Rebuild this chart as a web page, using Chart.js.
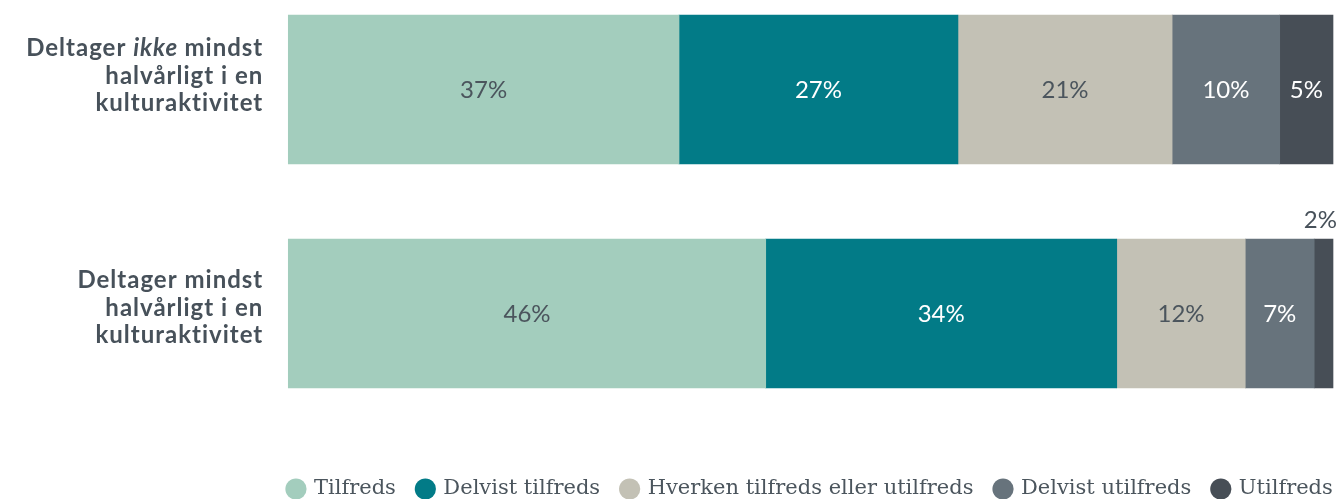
<!DOCTYPE html>
<html>
<head>
<meta charset="utf-8">
<script src="https://cdn.jsdelivr.net/npm/chart.js@4"></script>
<style>
  html, body { margin: 0; padding: 0; background: #ffffff; overflow: hidden; }
  #wrap { position: relative; width: 1340px; height: 519px; }
</style>
</head>
<body>
<div id="wrap"><canvas id="c"></canvas></div>
<script>
// ---- data ----
const categories = [
  ['Deltager ikke mindst', 'halvårligt i en', 'kulturaktivitet'],
  ['Deltager mindst', 'halvårligt i en', 'kulturaktivitet']
];
const italicWords = ['ikke'];
const seriesNames = ['Tilfreds', 'Delvist tilfreds', 'Hverken tilfreds eller utilfreds', 'Delvist utilfreds', 'Utilfreds'];
const tilfreds         = [37.4, 45.7];
const delvistTilfreds  = [26.7, 33.6];
const hverken          = [20.5, 12.3];
const delvistUtilfreds = [10.3, 6.6];
const utilfreds        = [5.1, 1.8];
const seriesValues = [tilfreds, delvistTilfreds, hverken, delvistUtilfreds, utilfreds];

// ---- styles ----
const colors = ['#a3cdbd', '#027b87', '#c3c1b5', '#67737c', '#474e56'];
const labelColors = ['#4b555d', '#ffffff', '#4b555d', '#ffffff', '#ffffff'];
const darkText = '#47515a';

const valueLabels = {
  id: 'valueLabels',
  afterDatasetsDraw(chart) {
    const ctx = chart.ctx;
    ctx.save();
    ctx.font = '24px Lato';
    ctx.textBaseline = 'middle';
    chart.data.datasets.forEach((ds, di) => {
      const meta = chart.getDatasetMeta(di);
      meta.data.forEach((el, i) => {
        const v = ds.data[i];
        const p = el.getProps(['x', 'base', 'y', 'height'], true);
        const txt = Math.round(v) + '%';
        if (v < 3) {
          ctx.fillStyle = darkText;
          ctx.textAlign = 'right';
          ctx.fillText(txt, p.x + 4, p.y - p.height / 2 - 19);
        } else {
          ctx.fillStyle = labelColors[di];
          ctx.textAlign = 'center';
          ctx.fillText(txt, (p.x + p.base) / 2, p.y + 1);
        }
      });
    });
    ctx.restore();
  }
};

const categoryLabels = {
  id: 'categoryLabels',
  afterDraw(chart, args, opts) {
    const ctx = chart.ctx;
    const yScale = chart.scales.y;
    const right = chart.chartArea.left - 26;
    const lh = 27.3;
    ctx.save();
    ctx.fillStyle = darkText;
    ctx.textBaseline = 'alphabetic';
    ctx.textAlign = 'left';
    try { ctx.letterSpacing = '1px'; } catch (e) {}
    const fN = 'bold 24px Lato', fI = 'italic bold 24px Lato';
    categories.forEach((lines, i) => {
      const cy = yScale.getPixelForValue(i) + opts.shift[i];
      lines.forEach((line, k) => {
        const words = line.split(' ');
        let total = 0;
        const parts = words.map((w, wi) => {
          const t = wi < words.length - 1 ? w + ' ' : w;
          const f = italicWords.includes(w) ? fI : fN;
          ctx.font = f;
          const wd = ctx.measureText(t).width;
          total += wd;
          return { t, f, wd };
        });
        let x = right - total + 1;
        const y = cy + (k - 1) * lh;
        parts.forEach(pt => {
          ctx.font = pt.f;
          ctx.fillText(pt.t, x, y);
          x += pt.wd;
        });
      });
    });
    ctx.restore();
  }
};

// keep the legend on one row, centred over the plot area
const legendOneRow = {
  id: 'legendOneRow',
  beforeUpdate(chart) {
    const lg = chart.legend;
    if (lg && !lg.__patched) {
      lg.__patched = true;
      const proto = Object.getPrototypeOf(lg);
      lg._fitRows = function (...a) {
        const m = this.maxWidth;
        this.maxWidth = 100000;
        const r = proto._fitRows.apply(this, a);
        this.maxWidth = m;
        return r;
      };
    }
  },
  afterLayout(chart) {
    const lg = chart.legend;
    if (lg) {
      lg.left -= 100;
      lg.right += 100;
      lg.width = lg.right - lg.left;
    }
  }
};

new Chart(document.getElementById('c'), {
  type: 'bar',
  data: {
    labels: categories.map(l => l.join(' ')),
    datasets: seriesNames.map((name, i) => ({
      label: name,
      data: seriesValues[i],
      backgroundColor: colors[i],
      borderWidth: 0,
      barThickness: 149,
      clip: false
    }))
  },
  options: {
    indexAxis: 'y',
    responsive: true,
    maintainAspectRatio: false,
    animation: false,
    layout: { padding: { top: 89.5, left: 288.3, right: 7, bottom: 9.5 } },
    scales: {
      x: {
        stacked: true, min: 0, max: 100,
        display: true,
        ticks: { display: false },
        grid: { display: false },
        border: { display: false },
        afterFit(s) { s.height = 143; }
      },
      y: {
        stacked: true, offset: false,
        display: false
      }
    },
    plugins: {
      tooltip: { enabled: false },
      categoryLabels: { shift: [-6, 2] },
      legend: {
        position: 'bottom',
        labels: {
          usePointStyle: true,
          pointStyle: 'circle',
          boxWidth: 15,
          boxHeight: 15,
          padding: 22,
          color: '#4b555d',
          font: { family: 'DejaVu Serif', size: 21 }
        }
      }
    }
  },
  plugins: [valueLabels, categoryLabels, legendOneRow]
});
</script>
</body>
</html>
